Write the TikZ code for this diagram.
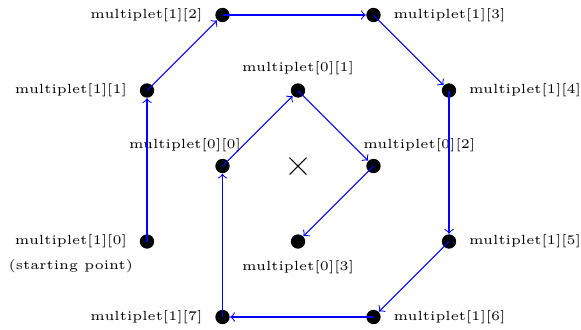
\documentclass[tikz,border=0pt]{standalone}
\usepackage{tikz}
\usetikzlibrary{positioning,shapes.misc}
\tikzset{
  dot/.style={circle, fill=black, inner sep=0pt, minimum size=0.19cm},
  lbl/.style={font=\tiny},
  link/.style={->, blue, line width=0.4pt},
}

\begin{document}
\begin{tikzpicture}
  \useasboundingbox (-3.947,-2.159) rectangle (3.748,2.199);
  % centre mark
  \node[cross out, draw, minimum size=0.21cm, inner sep=0pt] (ctr) at (0,0) {};
  % outer ring
  \foreach \i/\x/\y in {0/-2/-1,1/-2/1,2/-1/2,3/1/2,4/2/1,5/2/-1,6/1/-2,7/-1/-2}{
    \node[dot] (m1\i) at (\x,\y) {};
  }
  % inner ring
  \foreach \i/\x/\y in {0/-1/0,1/0/1,2/1/0,3/0/-1}{
    \node[dot] (m0\i) at (\x,\y) {};
  }
  % labels, outer ring
  \foreach \i in {0,1,2,7}{
    \node[lbl, left=0.04cm of m1\i] (t1\i) {multiplet[1][\i]};
  }
  \foreach \i in {3,4,5,6}{
    \node[lbl, right=0.04cm of m1\i] (t1\i) {multiplet[1][\i]};
  }
  \node[lbl, below=-0.1cm of t10] (start) {(starting point)};
  % labels, inner ring
  \node[lbl, anchor=south east] (t00) at ([shift={(0.37,0.07)}]m00.center) {multiplet[0][0]};
  \node[lbl, above=-0.02cm of m01] (t01) {multiplet[0][1]};
  \node[lbl, anchor=south west] (t02) at ([shift={(-0.26,0.07)}]m02.center) {multiplet[0][2]};
  \node[lbl, below=0.02cm of m03] (t03) {multiplet[0][3]};
  % walk through the points
  \foreach \a/\b in {m10/m11,m11/m12,m12/m13,m13/m14,m14/m15,m15/m16,m16/m17,
    m17/m00,m00/m01,m01/m02,m02/m03}{
    \draw[link] (\a.center) -- (\b);
  }
\end{tikzpicture}
\end{document}
